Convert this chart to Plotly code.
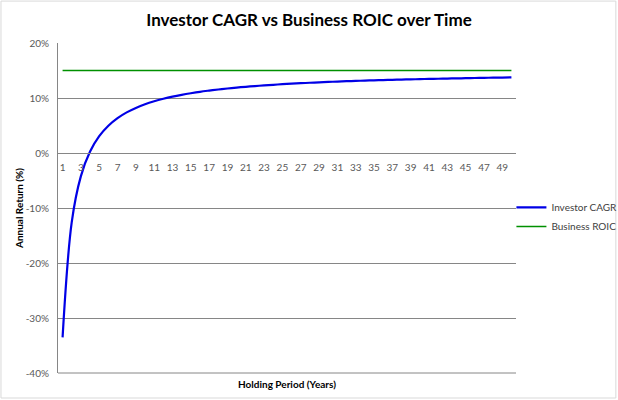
import plotly.graph_objects as go

# holding period in years
years = list(range(1, 51))

# annualised investor return (%)
investor_cagr = [
    -33.53, -12.57, -4.20, 0.27, 3.06, 4.96, 6.34, 7.39, 8.20, 8.87,
    9.41, 9.86, 10.25, 10.58, 10.87, 11.13, 11.35, 11.55, 11.73, 11.89,
    12.04, 12.17, 12.29, 12.40, 12.51, 12.60, 12.69, 12.77, 12.85, 12.92,
    12.99, 13.05, 13.11, 13.16, 13.22, 13.26, 13.31, 13.35, 13.39, 13.43,
    13.47, 13.50, 13.54, 13.57, 13.60, 13.64, 13.67, 13.69, 13.72, 13.75,
]

# business return on invested capital (%), flat
business_roic = [15.0] * 50

x_ticks = list(range(1, 50, 2))
y_ticks = [-40, -30, -20, -10, 0, 10, 20]
y_tick_labels = [f"{v}%" for v in y_ticks]
y_min, y_max = -40, 20

grey = "#868686"
font = "Lato, Calibri, sans-serif"

fig = go.Figure()
fig.add_trace(go.Scatter(x=years, y=investor_cagr, mode="lines",
                         name="Investor CAGR",
                         line=dict(color="#0000E6", width=2.2, shape="spline")))
fig.add_trace(go.Scatter(x=years, y=business_roic, mode="lines",
                         name="Business ROIC",
                         line=dict(color="#009000", width=1.5)))

fig.update_layout(
    width=618, height=400,
    margin=dict(l=58, r=102, t=43, b=27, autoexpand=False),
    paper_bgcolor="white", plot_bgcolor="white",
    font=dict(family=font, size=10, color="#595959"),
    title=dict(text="<b>Investor CAGR vs Business ROIC over Time</b>",
               x=0.5, xref="container", xanchor="center",
               y=0.95, yref="container", yanchor="middle",
               font=dict(family=font, size=17, color="black")),
    showlegend=True,
    legend=dict(x=0.99, xanchor="left", y=0.473, yanchor="middle",
                font=dict(family=font, size=10, color="#404040"),
                itemwidth=30, tracegroupgap=0, bgcolor="rgba(0,0,0,0)"),
    # x axis crosses the y axis at 0%
    xaxis=dict(range=[0.5, 50.5], tickmode="array", tickvals=x_ticks,
               showgrid=False, zeroline=False,
               showline=True, linecolor=grey, linewidth=1,
               anchor="free", position=(0 - y_min) / (y_max - y_min),
               ticks="", ticklabelstandoff=5,
               tickfont=dict(size=10, color="#595959")),
    yaxis=dict(range=[y_min, y_max], tickmode="array", tickvals=y_ticks,
               ticktext=y_tick_labels,
               showgrid=True, gridcolor=grey, gridwidth=1,
               zeroline=False, showline=True, linecolor=grey, linewidth=1,
               ticks="", ticklabelstandoff=6,
               title=dict(text="<b>Annual Return (%)</b>", standoff=0,
                          font=dict(family=font, size=10, color="black"))),
    annotations=[dict(text="<b>Holding Period (Years)</b>",
                      xref="paper", yref="paper", x=0.5, y=-0.033,
                      xanchor="center", yanchor="middle", showarrow=False,
                      font=dict(family=font, size=10, color="black"))],
    shapes=[
        # outer chart border
        dict(type="rect", xref="paper", yref="paper",
             x0=-0.1245, x1=1.218, y0=-0.0758, y1=1.127,
             line=dict(color="#D9D9D9", width=1), layer="below"),
        # bottom gridline at -40%, which plotly leaves out at the range edge
        dict(type="line", xref="paper", yref="paper", x0=0, x1=1,
             y0=0, y1=0, line=dict(color=grey, width=1), layer="above"),
    ],
)

# drop the default 8px page margin so the figure sits at the window corner
fig.write_html("out.html", config={"displayModeBar": False},
               post_script="document.body.style.margin='0';")
